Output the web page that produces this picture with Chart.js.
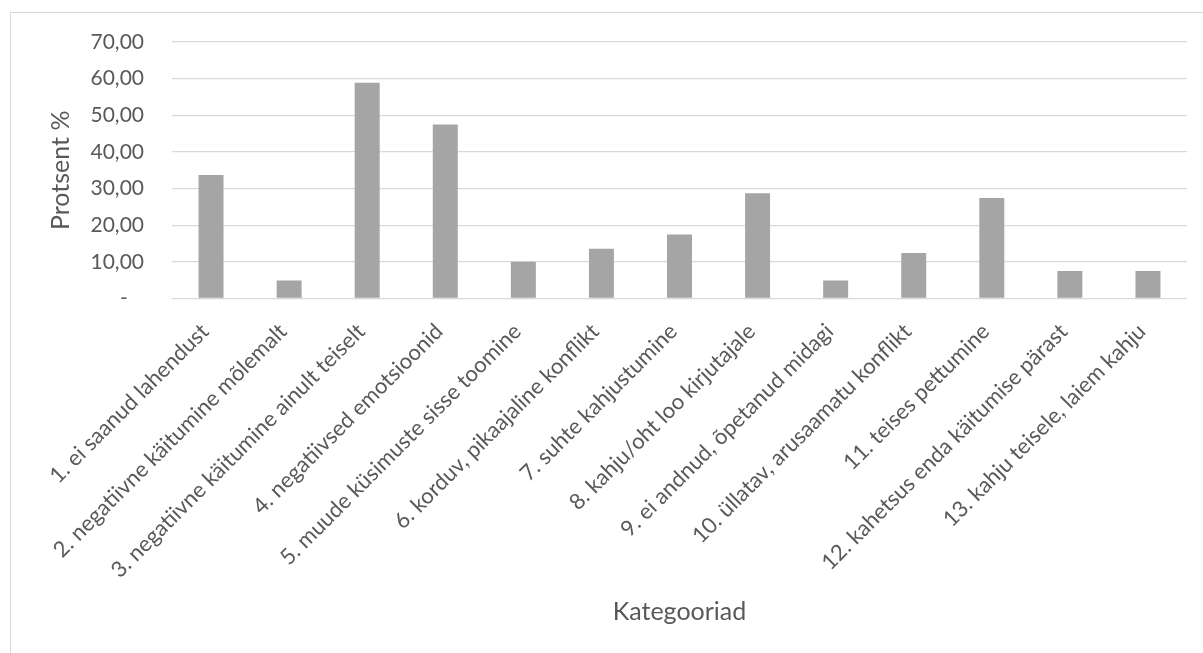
<!DOCTYPE html>
<html>
<head>
<meta charset="utf-8">
<script src="https://cdn.jsdelivr.net/npm/chart.js@4.4.1/dist/chart.umd.min.js"></script>
<style>
  html, body { margin: 0; padding: 0; background: #ffffff; overflow: hidden; }
  /* light frame around the chart area, open to the right and bottom */
  #frame { position: absolute; left: 10px; top: 12px; width: 1400px; height: 900px;
           border: 1px solid #d9d9d9; box-sizing: border-box; }
  #wrap { position: absolute; left: 0; top: 0; width: 1203px; height: 653px; }
</style>
</head>
<body>
<div id="frame"></div>
<div id="wrap"><canvas id="chart" width="1203" height="653"></canvas></div>
<script>
// Categories of the answers
const categories = [
  "1. ei saanud lahendust",
  "2. negatiivne käitumine mõlemalt",
  "3. negatiivne käitumine ainult teiselt",
  "4. negatiivsed emotsioonid",
  "5. muude küsimuste sisse toomine",
  "6. korduv, pikaajaline konflikt",
  "7. suhte kahjustumine",
  "8. kahju/oht loo kirjutajale",
  "9. ei andnud, õpetanud midagi",
  "10. üllatav, arusaamatu konflikt",
  "11. teises pettumine",
  "12. kahetsus enda käitumise pärast",
  "13. kahju teisele, laiem kahju"
];

// Share of answers in each category, percent
const percentValues = [33.7, 4.9, 58.9, 47.5, 10.0, 13.6, 17.5, 28.7, 4.9, 12.4, 27.4, 7.5, 7.5];

// Value axis range and step
const yMin = 0;
const yMax = 70;
const yStep = 10;

const axisTitleX = "Kategooriad";
const axisTitleY = "Protsent %";

const textColor = "#595959";
const fontFamily = "Lato, 'Open Sans', sans-serif";

function formatTick(v) {
  if (v === 0) return "-   ";
  return v.toFixed(2).replace(".", ",");
}

new Chart(document.getElementById("chart"), {
  type: "bar",
  data: {
    labels: categories,
    datasets: [{
      data: percentValues,
      backgroundColor: "#a5a5a5",
      borderWidth: 0,
      categoryPercentage: 1,
      barPercentage: 0.32
    }]
  },
  options: {
    responsive: false,
    animation: false,
    devicePixelRatio: 1,
    layout: { padding: { top: 42, right: 16, bottom: 0, left: 0 } },
    plugins: {
      legend: { display: false },
      tooltip: { enabled: false }
    },
    scales: {
      x: {
        grid: { display: false },
        border: { display: false },
        ticks: {
          color: textColor,
          font: { family: fontFamily, size: 22 },
          minRotation: 45,
          maxRotation: 45,
          autoSkip: false,
          padding: 12,
          labelOffset: -6
        },
        title: {
          display: true,
          text: axisTitleX,
          color: textColor,
          font: { family: fontFamily, size: 25 },
          padding: { top: 0, bottom: 26 }
        },
        afterFit(scale) { scale.height = 354.5; }
      },
      y: {
        min: yMin,
        max: yMax,
        grid: { color: "#d9d9d9", lineWidth: 1.3, drawTicks: false },
        border: { display: false },
        ticks: {
          stepSize: yStep,
          color: textColor,
          font: { family: fontFamily, size: 21 },
          padding: 28,
          callback: formatTick
        },
        title: {
          display: true,
          text: axisTitleY,
          color: textColor,
          font: { family: fontFamily, size: 25 },
          padding: { top: 46, bottom: 0 }
        },
        afterFit(scale) { scale.width = 172; }
      }
    }
  }
});
</script>
</body>
</html>
